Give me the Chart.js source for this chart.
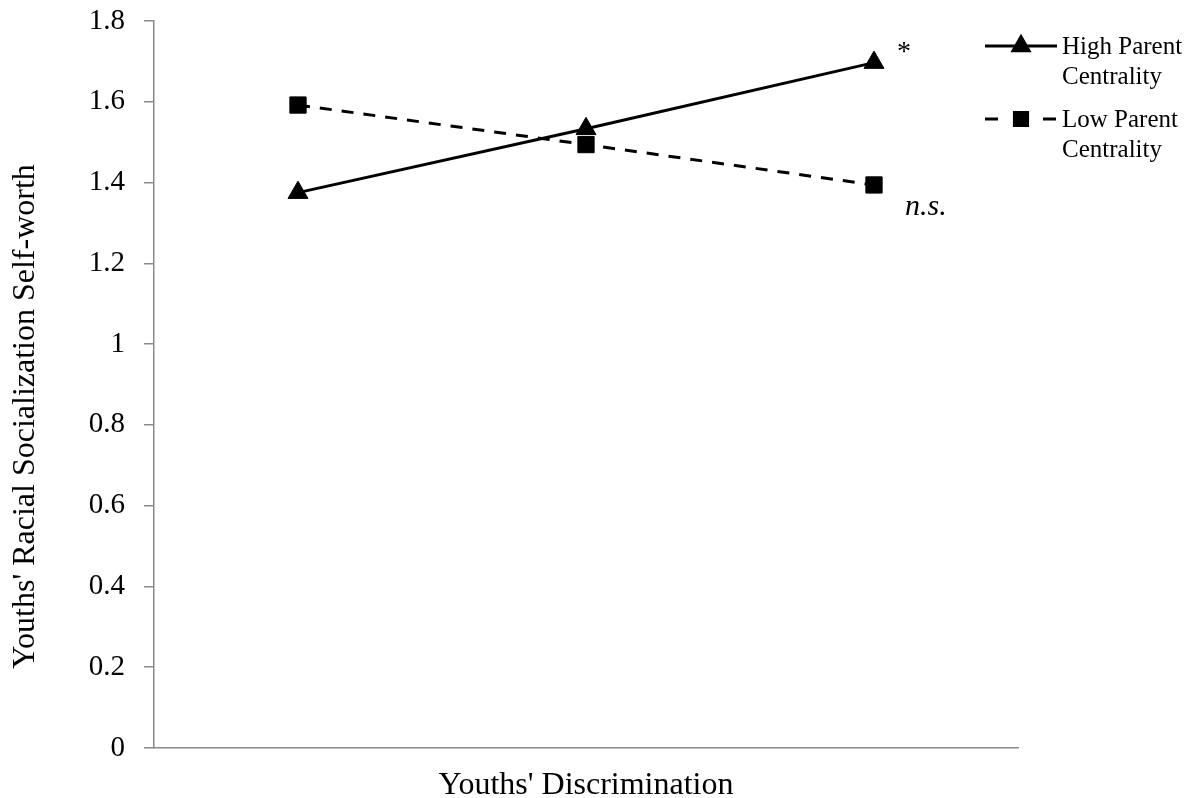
<!DOCTYPE html>
<html>
<head>
<meta charset="utf-8">
<script src="https://cdn.jsdelivr.net/npm/chart.js@4.4.0/dist/chart.umd.min.js"></script>
<style>
html,body{margin:0;padding:0;background:#fff;}
#wrap{width:1196px;height:798px;}
</style>
</head>
<body>
<div id="wrap"><canvas id="c" width="1196" height="798"></canvas></div>
<script>
const categories = ['Low', 'Average', 'High'];
const highCentrality = [1.375, 1.533, 1.697];
const lowCentrality = [1.592, 1.494, 1.394];
const yTicks = [0, 0.2, 0.4, 0.6, 0.8, 1, 1.2, 1.4, 1.6, 1.8];
const seriesNames = [['High Parent', 'Centrality'], ['Low Parent', 'Centrality']];
const significance = ['*', 'n.s.'];
const xTitle = "Youths' Discrimination";
const yTitle = "Youths' Racial Socialization Self-worth";

const SERIF = '"Liberation Serif", "Times New Roman", serif';

const extras = {
  id: 'extras',
  afterDraw(chart) {
    const ctx = chart.ctx;
    ctx.save();
    // legend
    const lx0 = 985, lx1 = 1057, tx = 1062;
    const rows = [46, 119];
    const baselines = [[54, 84], [127, 157]];
    chart.data.datasets.forEach((ds, i) => {
      const y = rows[i];
      ctx.strokeStyle = '#000';
      ctx.lineWidth = ds.borderWidth;
      ctx.setLineDash(ds.borderDash ? [13, 16] : []);
      ctx.beginPath();
      ctx.moveTo(lx0, y);
      ctx.lineTo(lx1, y);
      ctx.stroke();
      ctx.setLineDash([]);
      ctx.fillStyle = '#000';
      ctx.strokeStyle = '#000';
      Chart.helpers.drawPoint(ctx, {pointStyle: ds.pointStyle, radius: 9.3, rotation: 0, borderWidth: 1}, (lx0 + lx1) / 2, y);
      ctx.font = '25px ' + SERIF;
      ctx.textAlign = 'left';
      ctx.textBaseline = 'alphabetic';
      seriesNames[i].forEach((t, k) => ctx.fillText(t, tx, baselines[i][k]));
    });
    // significance labels
    const mHigh = chart.getDatasetMeta(0).data[2];
    const mLow = chart.getDatasetMeta(1).data[2];
    ctx.fillStyle = '#000';
    ctx.textAlign = 'left';
    ctx.textBaseline = 'alphabetic';
    ctx.font = '28px ' + SERIF;
    ctx.fillText(significance[0], mHigh.x + 23, mHigh.y - 3);
    ctx.font = 'italic 30px ' + SERIF;
    ctx.fillText(significance[1], mLow.x + 31, mLow.y + 30);
    ctx.restore();
  }
};

new Chart(document.getElementById('c'), {
  type: 'line',
  data: {
    labels: categories,
    datasets: [
      {
        label: seriesNames[0].join(' '),
        data: highCentrality,
        borderColor: '#000',
        backgroundColor: '#000',
        borderWidth: 3,
        pointStyle: 'triangle',
        pointRadius: 11.5,
        pointBorderWidth: 1,
        pointBackgroundColor: '#000',
        tension: 0
      },
      {
        label: seriesNames[1].join(' '),
        data: lowCentrality,
        borderColor: '#000',
        backgroundColor: '#000',
        borderWidth: 3,
        borderDash: [12, 10],
        pointStyle: 'rect',
        pointRadius: 11.5,
        pointBorderWidth: 1,
        pointBackgroundColor: '#000',
        tension: 0
      }
    ]
  },
  options: {
    responsive: false,
    animation: false,
    layout: {padding: {left: 0, top: 21, right: 178, bottom: 0}},
    plugins: {legend: {display: false}, tooltip: {enabled: false}},
    scales: {
      x: {
        offset: true,
        grid: {display: false},
        border: {display: true, color: '#8a8a8a', width: 1.5},
        ticks: {display: false},
        title: {
          display: true,
          text: xTitle,
          color: '#000',
          font: {family: SERIF, size: 32, lineHeight: 0.75},
          padding: {top: 0, bottom: 0}
        },
        afterFit(s) { s.height = 50; s.paddingLeft = 0; s.paddingRight = 0; }
      },
      y: {
        min: 0,
        max: 1.8,
        afterBuildTicks(s) { s.ticks = yTicks.map(v => ({value: v})); },
        grid: {display: true, drawOnChartArea: false, drawTicks: true, tickLength: 10, color: '#8a8a8a', lineWidth: 1.5},
        border: {display: true, color: '#8a8a8a', width: 1.5},
        ticks: {
          color: '#000',
          padding: 19,
          font: {family: SERIF, size: 29},
          callback: v => String(+Number(v).toFixed(1))
        },
        title: {
          display: true,
          text: yTitle + '\u00a0'.repeat(8),
          color: '#000',
          font: {family: SERIF, size: 32, lineHeight: 1.0},
          padding: {top: 10, bottom: 0}
        },
        afterFit(s) { s.width = 154; s.paddingTop = 0; s.paddingBottom = 0; }
      }
    }
  },
  plugins: [extras]
});
</script>
</body>
</html>
